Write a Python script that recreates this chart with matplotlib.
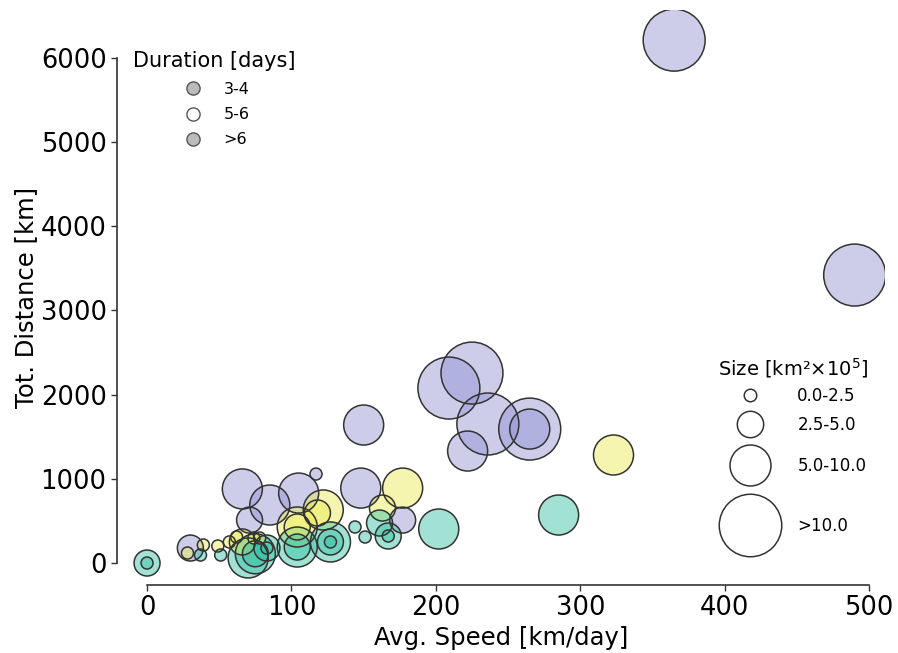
import matplotlib
matplotlib.use('Agg')
import matplotlib.pyplot as plt
from matplotlib.lines import Line2D
from matplotlib.legend_handler import HandlerLine2D
import numpy as np

# avg speed [km/day], total distance [km], size class (0..3), duration class (0..2)
speed = [365, 490, 209, 225, 236, 265, 265, 222, 150, 148, 117, 66, 85, 105, 71, 30, 177,
         323, 177, 163, 104, 104, 122, 118, 28, 39, 49, 57, 62, 66, 74, 78,
         0, 0, 285, 202, 161, 144, 151, 167, 167, 127, 127, 127, 104, 104, 83, 83,
         75, 75, 70, 51, 37]
distance = [6210, 3420, 2078, 2256, 1651, 1591, 1591, 1330, 1639, 890, 1057, 880, 689, 831, 510, 178, 510,
            1283, 890, 653, 428, 428, 630, 594, 119, 214, 202, 250, 309, 250, 297, 297,
            0, 0, 570, 404, 475, 428, 309, 321, 321, 250, 250, 250, 190, 190, 178, 178,
            110, 110, 60, 95, 95]
size_class = [3, 3, 3, 3, 3, 3, 2, 2, 2, 2, 0, 2, 2, 2, 1, 1, 1,
              2, 2, 1, 2, 1, 2, 1, 0, 0, 0, 0, 0, 1, 0, 0,
              1, 0, 2, 2, 1, 0, 0, 1, 0, 2, 1, 0, 2, 1, 1, 0,
              2, 1, 2, 0, 0]
duration_class = [0, 0, 0, 0, 0, 0, 0, 0, 0, 0, 0, 0, 0, 0, 0, 0, 0,
                  1, 1, 1, 1, 1, 1, 1, 1, 1, 1, 1, 1, 1, 1, 1,
                  2, 2, 2, 2, 2, 2, 2, 2, 2, 2, 2, 2, 2, 2, 2, 2,
                  2, 2, 2, 2, 2]

duration_labels = ['3-4', '5-6', '>6']
size_labels = ['0.0-2.5', '2.5-5.0', '5.0-10.0', '>10.0']

colors = ['#9191d2', '#ebeb50', '#30c0a0']
marker_s = [75, 350, 830, 1990]
legend_ms = [9, 19, 29.5, 45]
row_half = [7, 10, 16, 24]  # legend row half-heights (pt)


class RowHandler(HandlerLine2D):
    # lets each legend row have its own height, marker kept centred on the text
    def __init__(self, half, **kw):
        super().__init__(**kw)
        self.half = half

    def legend_artist(self, legend, orig_handle, fontsize, handlebox):
        m = (handlebox.height - handlebox.ydescent) / 2
        handlebox.ydescent = self.half - m
        handlebox.height = 2 * self.half
        artist = super().legend_artist(legend, orig_handle, fontsize, handlebox)
        for ch in handlebox.get_children():
            ch.set_ydata(np.full_like(np.asarray(ch.get_xdata(), dtype=float), m))
        return artist


fig = plt.figure(figsize=(8.98, 6.53), dpi=100)
ax = fig.add_axes([117 / 898, 68 / 653, 768 / 898, 575 / 653])

order = np.argsort([-marker_s[k] for k in size_class], kind='stable')
for i in order:
    ax.scatter(speed[i], distance[i], s=marker_s[size_class[i]],
               color=colors[duration_class[i]], alpha=0.45,
               edgecolors='none', zorder=2)
    ax.scatter(speed[i], distance[i], s=marker_s[size_class[i]],
               facecolors='none', edgecolors='#333333', linewidths=1.1, zorder=3)

ax.set_xlim(-20.8, 511)
ax.set_ylim(-261, 6568)
ax.spines['top'].set_visible(False)
ax.spines['right'].set_visible(False)
ax.spines['left'].set_bounds(0, 6000)
ax.spines['bottom'].set_bounds(0, 500)
for sp in ['left', 'bottom']:
    ax.spines[sp].set_color('#333333')
    ax.spines[sp].set_linewidth(1.2)
ax.set_xticks([0, 100, 200, 300, 400, 500])
ax.set_yticks([0, 1000, 2000, 3000, 4000, 5000, 6000])
ax.tick_params(labelsize=18.5, length=4, width=1.0, color='#333333')
ax.set_xlabel('Avg. Speed [km/day]', fontsize=17.5, labelpad=3)
ax.set_ylabel('Tot. Distance [km]', fontsize=17.5, labelpad=2)

# duration legend
dur_face = ['#bbbbbb', 'white', '#bbbbbb']
dur_handles = [Line2D([], [], marker='o', linestyle='none', markersize=9.5,
                      markerfacecolor=dur_face[k], markeredgecolor='#555555',
                      markeredgewidth=1.0, label=duration_labels[k]) for k in range(3)]
leg1 = ax.legend(handles=dur_handles, title='Duration [days]', loc='upper left',
                 bbox_to_anchor=(0.0106, 0.942), frameon=False, fontsize=11.5,
                 title_fontsize=15, borderpad=0, labelspacing=0.65,
                 handlelength=1.8, handletextpad=1.0)
ax.add_artist(leg1)

size_handles = [Line2D([], [], marker='o', linestyle='none', markersize=legend_ms[k],
                       markerfacecolor='none', markeredgecolor='#333333',
                       markeredgewidth=1.1, label=size_labels[k]) for k in range(4)]
leg2 = ax.legend(handles=size_handles, title='Size [km²×10$^5$]', loc='upper left',
                 bbox_to_anchor=(0.772, 0.412), frameon=False, fontsize=12,
                 title_fontsize=14, borderpad=0, labelspacing=0.3,
                 handlelength=3.5, handletextpad=1.1,
                 handler_map={h: RowHandler(row_half[k]) for k, h in enumerate(size_handles)})

fig.savefig('out.png', dpi=100)
